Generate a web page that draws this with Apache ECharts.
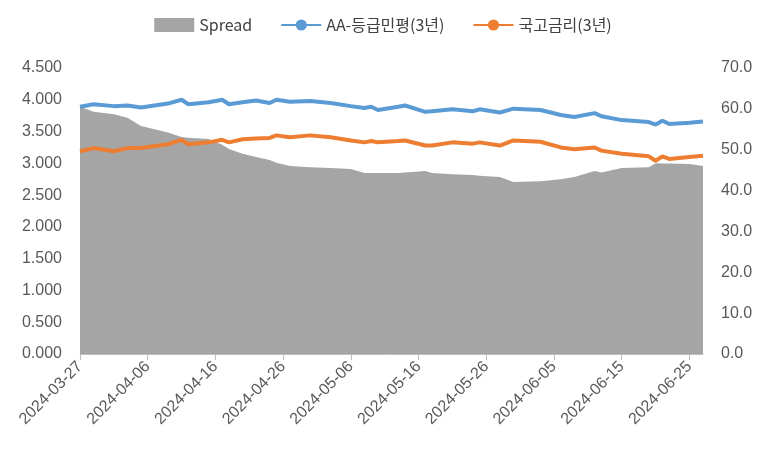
<!DOCTYPE html>
<html>
<head>
<meta charset="utf-8">
<script src="https://cdn.jsdelivr.net/npm/echarts@6/dist/echarts.min.js"></script>
<style>html,body{margin:0;padding:0;background:#fff}#c{width:766px;height:454px}</style>
</head>
<body>
<div id="c"></div>
<script>
// days since 2024-03-27
var days = [0,2,5,7,9,13,15,16,19,21,22,24,26,28,29,31,34,37,40,42,43,44,47,48,51,52,55,58,59,62,64,68,71,73,76,77,80,84,85,86,87,90,92];
var aa = [3.89,3.93,3.90,3.91,3.88,3.94,4.00,3.93,3.96,4.00,3.93,3.96,3.99,3.95,4.00,3.97,3.98,3.95,3.90,3.87,3.89,3.84,3.89,3.91,3.81,3.82,3.85,3.82,3.85,3.80,3.86,3.84,3.76,3.73,3.79,3.74,3.68,3.65,3.61,3.67,3.62,3.64,3.66];
var govt = [3.19,3.24,3.19,3.24,3.24,3.30,3.37,3.30,3.33,3.37,3.33,3.38,3.39,3.40,3.44,3.41,3.44,3.41,3.36,3.33,3.35,3.33,3.35,3.36,3.28,3.28,3.33,3.31,3.33,3.28,3.36,3.34,3.25,3.22,3.25,3.20,3.15,3.11,3.04,3.11,3.07,3.10,3.12];
var spread = [60.5,59.3,58.7,57.8,55.8,54.2,53.1,52.9,52.6,51.2,50.2,49.0,48.2,47.5,46.8,46.0,45.7,45.5,45.3,44.3,44.3,44.3,44.3,44.4,44.8,44.3,44.0,43.8,43.6,43.3,42.1,42.3,42.8,43.3,44.8,44.4,45.5,45.7,46.7,46.6,46.6,46.5,46.0];

var start = Date.UTC(2024, 2, 27);
function dayLabel(d){
  var t = new Date(start + d*86400000);
  var m = t.getUTCMonth()+1, dd = t.getUTCDate();
  return t.getUTCFullYear() + '-' + (m<10?'0':'') + m + '-' + (dd<10?'0':'') + dd;
}
function pairs(vals){ return days.map(function(d,i){ return [d, vals[i]]; }); }

var chart = echarts.init(document.getElementById('c'));
var txt = {color:'#595959', fontSize:16, fontFamily:'Liberation Sans, Arial'};
chart.setOption({
  animation:false,
  legend:{
    top:12, left:'center', itemGap:28, itemWidth:40, itemHeight:14,
    textStyle:{color:'#404040', fontSize:16, fontFamily:'Noto Sans CJK KR, Liberation Sans'},
    data:[{name:'Spread', icon:'rect'}, {name:'AA-등급민평(3년)'}, {name:'국고금리(3년)'}]
  },
  grid:{left:80, right:63, top:68, bottom:100},
  xAxis:{
    type:'value', min:0, max:92, interval:10,
    splitLine:{show:false},
    axisLine:{lineStyle:{color:'#bfbfbf'}},
    axisTick:{show:true, length:6, lineStyle:{color:'#bfbfbf'}},
    axisLabel:Object.assign({rotate:45, margin:10, showMaxLabel:false, formatter:dayLabel}, txt)
  },
  yAxis:[{
    type:'value', min:0, max:4.5, interval:0.5,
    splitLine:{show:false}, axisLine:{show:false}, axisTick:{show:false},
    axisLabel:Object.assign({margin:18, formatter:function(v){return v.toFixed(3);}}, txt)
  },{
    type:'value', min:0, max:70, interval:10,
    splitLine:{show:false}, axisLine:{show:false}, axisTick:{show:false},
    axisLabel:Object.assign({margin:18, formatter:function(v){return v.toFixed(1);}}, txt)
  }],
  series:[{
    name:'Spread', type:'line', yAxisIndex:1, data:pairs(spread),
    symbol:'none', lineStyle:{width:0}, itemStyle:{color:'#a5a5a5'},
    areaStyle:{color:'#a5a5a5', opacity:1}
  },{
    name:'AA-등급민평(3년)', type:'line', data:pairs(aa),
    symbol:'none', lineStyle:{width:4, color:'#5b9bd5'}, itemStyle:{color:'#5b9bd5'}
  },{
    name:'국고금리(3년)', type:'line', data:pairs(govt),
    symbol:'none', lineStyle:{width:4, color:'#ed7d31'}, itemStyle:{color:'#ed7d31'}
  }]
});
</script>
</body>
</html>
